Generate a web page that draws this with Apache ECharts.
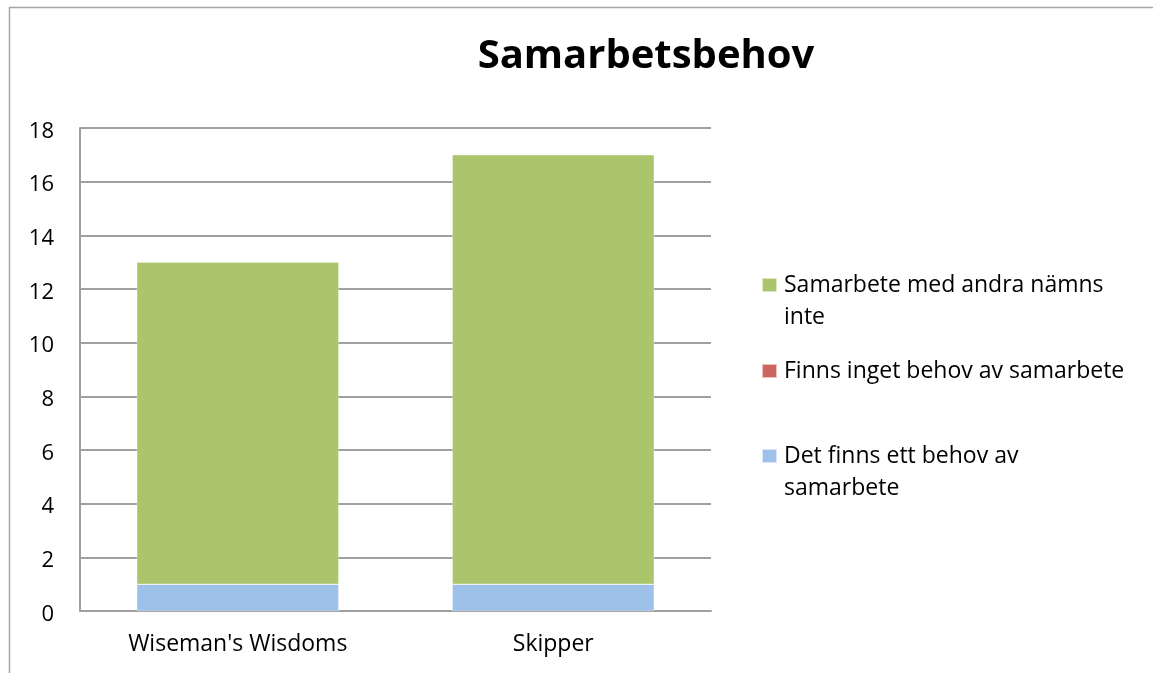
<!DOCTYPE html>
<html>
<head>
<meta charset="utf-8">
<script src="https://cdn.jsdelivr.net/npm/echarts@6/dist/echarts.min.js"></script>
<style>html,body{margin:0;padding:0;background:#fff}#c{width:1153px;height:673px}</style>
</head>
<body>
<div id="c"></div>
<script>
const categories = ["Wiseman's Wisdoms", "Skipper"];
const seriesNames = ["Det finns ett behov av samarbete", "Finns inget behov av samarbete", "Samarbete med andra nämns inte"];
const legendLabels = ["Det finns ett behov av\nsamarbete", "Finns inget behov av samarbete", "Samarbete med andra nämns\ninte"];
const behovValues = [1, 1];
const ingetValues = [0, 0];
const nämnsIngetValues = [12, 16];
const yTicks = [0, 2, 4, 6, 8, 10, 12, 14, 16, 18];
const title = "Samarbetsbehov";

const colors = ['#9EC1EA', '#CD6660', '#ABC56D'];
const FONT = 'Open Sans';
const chart = echarts.init(document.getElementById('c'), null, {renderer: 'canvas'});

const seriesData = [behovValues, ingetValues, nämnsIngetValues];
const labelMap = {};
seriesNames.forEach((n, i) => labelMap[n] = legendLabels[i]);

const squarePath = 'path://M0,0H15V14H0Z';
const tallPath = 'path://M0,0H15V14H0Z M0,46L0.01,46Z';

function mkLegend(idx, top) {
  const twoLines = legendLabels[idx].indexOf('\n') >= 0;
  return {
    data: [seriesNames[idx]],
    orient: 'vertical',
    left: 761,
    top: top,
    padding: 0,
    itemWidth: 15,
    itemHeight: twoLines ? 46 : 14,
    icon: twoLines ? tallPath : squarePath,
    selectedMode: false,
    formatter: n => labelMap[n],
    textStyle: {fontFamily: FONT, fontSize: 23, color: '#000', lineHeight: 32, padding: [0,0,0,2]}
  };
}

chart.setOption({
  animation: false,
  backgroundColor: '#fff',
  color: colors,
  title: {
    text: title,
    left: 641,
    textAlign: 'center',
    top: 32,
    textStyle: {fontFamily: FONT, fontWeight: 'bold', fontSize: 40, color: '#000'}
  },
  graphic: [{
    type: 'rect',
    shape: {x: 9.5, y: 7.5, width: 2000, height: 2000},
    style: {fill: 'none', stroke: '#A6A6A6', lineWidth: 1.5},
    silent: true
  }],
  legend: [mkLegend(2, 269), mkLegend(1, 355), mkLegend(0, 440)],
  grid: {left: 80, right: 442, top: 128, bottom: 62, containLabel: false},
  xAxis: {
    type: 'category',
    data: categories,
    axisLine: {lineStyle: {color: '#A0A0A0', width: 2}},
    axisTick: {show: false},
    axisLabel: {fontFamily: FONT, fontSize: 23, color: '#000', margin: 22}
  },
  yAxis: {
    type: 'value',
    min: yTicks[0],
    max: yTicks[yTicks.length - 1],
    interval: yTicks[1] - yTicks[0],
    axisLine: {show: true, lineStyle: {color: '#A0A0A0', width: 2}},
    axisTick: {show: false},
    splitLine: {lineStyle: {color: '#A0A0A0', width: 2}},
    axisLabel: {
      margin: 26,
      formatter: v => '{n|' + v + '}',
      rich: {n: {fontFamily: FONT, fontSize: 22, color: '#000', padding: [7, 0, 0, 0]}}
    }
  },
  series: seriesNames.map((n, i) => ({
    name: n,
    type: 'bar',
    stack: 'total',
    barWidth: '64%',
    data: seriesData[i],
    itemStyle: {color: colors[i], borderColor: 'rgba(255,255,255,0.6)', borderWidth: 0.5}
  }))
});
</script>
</body>
</html>
